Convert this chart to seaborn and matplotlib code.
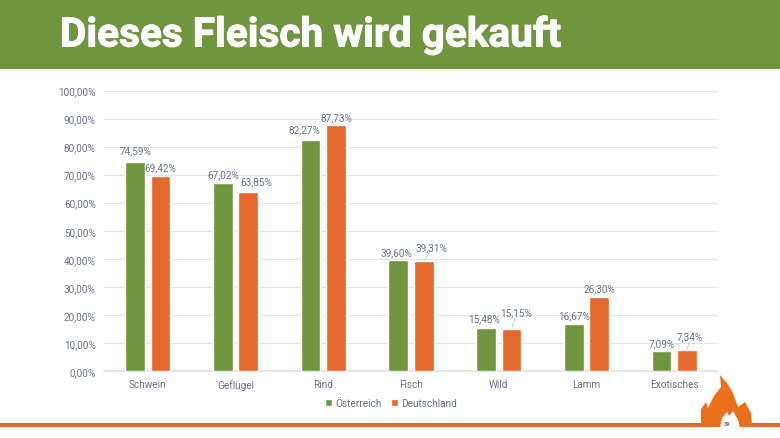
import pandas as pd
import seaborn as sns
import matplotlib.pyplot as plt
import matplotlib.patheffects as pe
from matplotlib.patches import Polygon, Rectangle

WIDTH = 780
HEIGHT = 439
GREEN = '#6f963f'
ORANGE = '#e2692b'
TEXT = '#667189'

categories = ['Schwein', 'Geflügel', 'Rind', 'Fisch', 'Wild', 'Lamm', 'Exotisches']
oesterreich = [74.59, 67.02, 82.27, 39.60, 15.48, 16.67, 7.09]
deutschland = [69.42, 63.85, 87.73, 39.31, 15.15, 26.30, 7.34]
y_ticks = [0, 10, 20, 30, 40, 50, 60, 70, 80, 90, 100]

# label shifts in pixels from the top centre of each bar, (dx, dy)
label_shift_at = [(0, 12), (0, 9), (-6, 11), (-2, 8), (-2, 9), (0, 9), (0, 8)]
label_shift_de = [(0, 9), (8, 11), (0, 8), (8, 14), (5, 16), (0, 9), (3, 14)]

# flame outline in pixels of the slide
flame_outer = [(701, 426), (701, 410), (706, 403), (708, 409), (714, 397),
               (721, 388), (720, 376), (727, 384), (733, 394), (738, 408),
               (745, 403), (751, 414), (752, 426), (747, 428), (706, 428)]
flame_inner = [(720, 429), (722, 419), (727, 413), (729, 417), (733, 412),
               (738, 421), (740, 429)]


def to_frame():
    rows = []
    for name, values in [('Österreich', oesterreich), ('Deutschland', deutschland)]:
        for cat, val in zip(categories, values):
            rows.append({'cat': cat, 'land': name, 'val': val})
    return pd.DataFrame(rows)


def fmt(v):
    return f'{v:.2f}'.replace('.', ',') + '%'


def slide_poly(points, color):
    pts = [(x / WIDTH, 1 - y / HEIGHT) for x, y in points]
    return Polygon(pts, closed=True, transform=fig.transFigure, color=color, lw=0, zorder=6)


sns.set_theme(style='white')
plt.rcParams['font.family'] = ['Roboto', 'DejaVu Sans']

fig = plt.figure(figsize=(7.8, 4.39), dpi=100)
ax = fig.add_axes([104 / WIDTH, 1 - 372 / HEIGHT, 614 / WIDTH, 280.5 / HEIGHT])

sns.barplot(data=to_frame(), x='cat', y='val', hue='land', order=categories,
            palette=[GREEN, ORANGE], width=0.58, gap=0.22, saturation=1,
            errorbar=None, ax=ax, zorder=3)

ax.set_xlim(-0.5, 6.5)
ax.set_ylim(0, 100)
ax.set_yticks(y_ticks)
ax.set_yticklabels([f'{t},00%' for t in y_ticks])
ax.set_xlabel('')
ax.set_ylabel('')
ax.grid(axis='y', color='#dfe2e6', lw=0.8, zorder=0)
ax.set_axisbelow(True)
ax.tick_params(axis='both', length=0, labelsize=7.2, labelcolor=TEXT)
ax.tick_params(axis='y', pad=6)
ax.tick_params(axis='x', pad=6)
sns.despine(ax=ax, left=True, bottom=False)
ax.spines['bottom'].set_color('#dfe2e6')

for container, shifts in zip(ax.containers, [label_shift_at, label_shift_de]):
    for bar, (dx, dy) in zip(container, shifts):
        xc = bar.get_x() + bar.get_width() / 2
        top = bar.get_height()
        ax.annotate(fmt(top), (xc, top), xytext=(dx, dy), textcoords='offset pixels',
                    ha='center', va='center', fontsize=7.2, color=TEXT, zorder=5)
        # small leader line where the label was moved away from the bar
        if dy >= 14:
            ax.annotate('', (xc, top), xytext=(dx * 0.8, dy - 5), textcoords='offset pixels',
                        arrowprops=dict(arrowstyle='-', color='#b9bec8', lw=0.5, shrinkA=0, shrinkB=1))

handles, labels = ax.get_legend_handles_labels()
ax.legend(handles, labels, loc='center', bbox_to_anchor=(391 / WIDTH, 1 - 404 / HEIGHT),
          bbox_transform=fig.transFigure, ncol=2, frameon=False, fontsize=7.2,
          labelcolor=TEXT, handlelength=0.7, handleheight=0.7, handletextpad=0.3,
          columnspacing=1.0)

# slide furniture: header band, title, bottom rule, flame and page number
fig.add_artist(Rectangle((0, 1 - 69.5 / HEIGHT), 1, 69.5 / HEIGHT, transform=fig.transFigure,
                         color=GREEN, lw=0))
fig.text(60 / WIDTH, 1 - 36 / HEIGHT, 'Dieses Fleisch wird gekauft', color='white',
         fontsize=29.2, fontweight='bold', va='center', ha='left',
         path_effects=[pe.withStroke(linewidth=0.7, foreground='white')])
fig.add_artist(Rectangle((0, 1 - 428 / HEIGHT), 1, 4 / HEIGHT, transform=fig.transFigure,
                         color=ORANGE, lw=0))
fig.add_artist(slide_poly(flame_outer, '#ec6f1c'))
fig.add_artist(slide_poly(flame_inner, 'white'))
fig.text(727 / WIDTH, 1 - 424.5 / HEIGHT, '39', fontsize=4, color=TEXT, fontweight='bold',
         ha='center', va='center', zorder=7)

fig.savefig('out.png', dpi=100)
